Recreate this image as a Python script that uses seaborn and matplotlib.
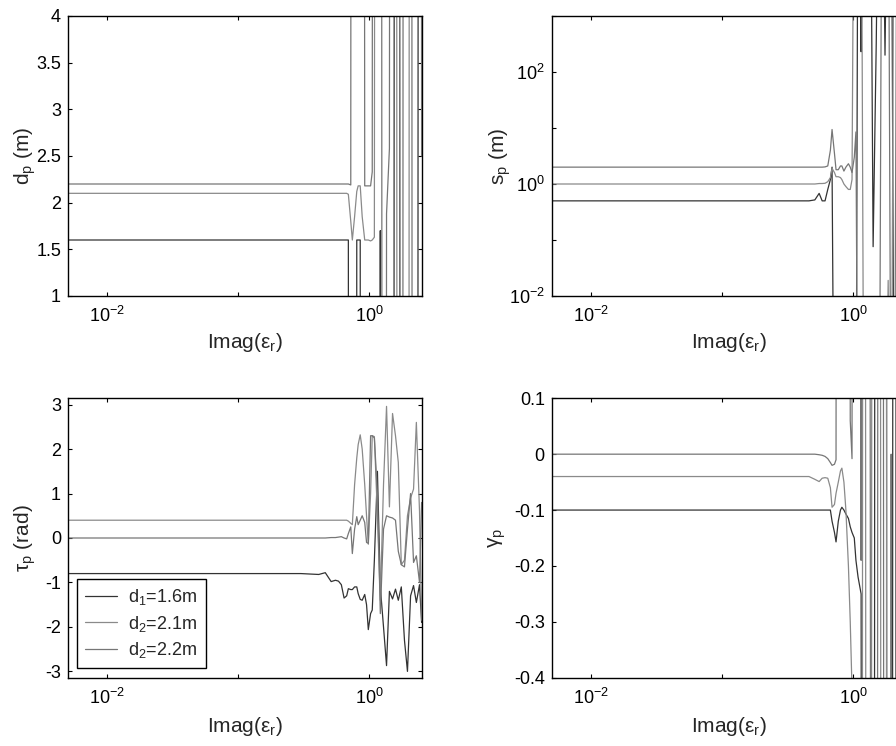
import numpy as np
import matplotlib
matplotlib.use("Agg")
import matplotlib.pyplot as plt
import seaborn as sns
from matplotlib.ticker import FixedLocator, FixedFormatter, NullLocator

# ---------------------------------------------------------------- data
# sampled imaginary part of the relative permittivity
imag_eps = [0.005, 0.25, 0.30, 0.35, 0.41, 0.46, 0.51, 0.55, 0.58, 0.61,
            0.64, 0.67, 0.69, 0.72, 0.74, 0.77, 0.80, 0.82, 0.85, 0.88,
            0.92, 0.95, 0.98, 1.02, 1.05, 1.09, 1.15, 1.21, 1.28, 1.35,
            1.42, 1.50, 1.58, 1.66, 1.75, 1.85, 1.95, 2.06, 2.17, 2.28,
            2.41, 2.50]

labels = ["d$_\\mathregular{1}$=1.6m", "d$_\\mathregular{2}$=2.1m", "d$_\\mathregular{2}$=2.2m"]

# estimated depth d_p (m)
dp_a = [1.6, 1.6, 1.6, 1.6, 1.6, 1.6, 1.6, 1.6, 1.6, 1.6, 1.6, 1.6, 1.6,
        -40, -40, -40, 1.6, 1.6, 1.6, -40, -40, -40, -40, -40, -40, -40,
        -40, 1.7, -40, -40, -40, -40, 40, 40, -40, -40, -40, -40, -40, -40,
        40, 40]
dp_b = [2.1, 2.1, 2.1, 2.1, 2.1, 2.1, 2.1, 2.1, 2.1, 2.1, 2.1, 2.1, 2.09,
        1.8, 1.6, 1.85, 2.12, 2.18, 2.18, 1.85, 1.6, 1.6, 1.6, 1.59, 1.6,
        1.63, 40, 40, 40, 40, 40, 40, 40, -40, -40, -40, -40, 40, 40, 40,
        40, 2.5]
dp_c = [2.2, 2.2, 2.2, 2.2, 2.2, 2.2, 2.2, 2.2, 2.2, 2.2, 2.2, 2.2, 2.2,
        2.19, 40, 40, 40, 40, 40, 40, 2.18, 2.18, 2.18, 2.18, 2.33, 40, 40,
        40, -40, 1.88, 2.58, 40, 40, 40, -40, 40, 40, 40, -40, -40, -40, -40]

# estimated spread s_p (m)
sp_a = [0.5, 0.5, 0.5, 0.5, 0.5, 0.5, 0.52, 0.68, 0.5, 0.5, 0.8, 1.2, 2.0,
        1e-6, 1e-6, 1e-6, 1e-6, 1e-6, 1e-6, 1e-6, 1e-6, 1e-6, 1e-6, 1e-6,
        1e-6, 1e7, 230, 1e7, 1e7, 1e7, 0.076, 320, 1e7, 1e7, 200, 1e7,
        1e7, 1e-6, 1e-6, 1e7, 1e7, 1e-6]
sp_b = [1.0, 1.0, 1.0, 1.0, 1.0, 1.0, 1.0, 1.02, 1.02, 1.03, 1.1, 1.3, 1.9,
        1.6, 1.35, 1.35, 1.3, 1.2, 1.0, 0.9, 0.8, 0.8, 1.2, 1e7, 1e7, 1e7,
        1e7, 1e-6, 1e-6, 1e-6, 1e-6, 1e-6, 1e-6, 1e-6, 1e-6, 0.019, 1e-6,
        1e7, 1e7, 1e-6, 1e-6, 1e7]
sp_c = [2.0, 2.0, 2.0, 2.0, 2.0, 2.0, 2.0, 2.0, 2.0, 2.02, 2.1, 4.0, 9.4,
        3.5, 1.8, 1.8, 2.1, 2.1, 1.7, 2.0, 2.3, 2.0, 1.6, 3.0, 8.5, 1e-6,
        1e-6, 1e-6, 1e-6, 1e-6, 1e-6, 1e-6, 1e-6, 1e7, 1e7, 1e7, 1e-6,
        1e-6, 1e7, 1e7, 1e-6, 1e-6]

# estimated orientation tau_p (rad)
tau_a = [-0.8, -0.8, -0.8, -0.81, -0.82, -0.78, -0.98, -0.95, -0.97, -1.05,
         -1.35, -1.3, -1.14, -1.16, -1.16, -1.1, -1.1, -1.25, -1.38, -1.4,
         -1.27, -1.5, -2.06, -1.7, -1.62, -0.5, 1.5, -1.1, -2.0, -2.87, -1.2,
         -1.37, -1.15, -1.4, -1.1, -2.3, -3.0, -1.3, -1.07, -1.45, -1.05,
         -1.9]
tau_b = [0.4, 0.4, 0.4, 0.4, 0.4, 0.4, 0.4, 0.4, 0.4, 0.4, 0.4, 0.4, 0.38,
         0.33, 0.3, 1.2, 1.8, 2.1, 2.32, 2.0, 1.2, 0.5, -0.14, 1.0, 2.3,
         2.28, 0.5, -1.4, 1.2, 2.96, 0.7, 2.8, 2.3, 1.7, -0.6, -0.5, 0.5,
         0.9, 1.1, 2.6, 0.6, -1.85]
tau_c = [0.0, 0.0, 0.0, 0.0, 0.0, 0.0, 0.01, 0.01, 0.02, 0.03, 0.0, -0.02,
         0.1, 0.25, -0.35, 0.2, 0.48, 0.3, 0.4, 0.5, 0.35, -0.1, -0.12, 2.3,
         2.3, 2.25, 1.0, -1.7, 0.2, 0.5, 0.47, 0.45, 0.4, -0.3, -0.6, -0.65,
         0.2, 1.0, -0.55, -0.4, -1.0, 0.8]

# estimated shape factor gamma_p
gam_a = [-0.1, -0.1, -0.1, -0.1, -0.1, -0.1, -0.1, -0.1, -0.1, -0.1, -0.1,
         -0.1, -0.12, -0.14, -0.157, -0.12, -0.1, -0.095, -0.1, -0.107,
         -0.115, -0.13, -0.14, -0.15, -0.19, -0.22, -0.25, -5, -5, -5, -5,
         5, 5, 5, 5, -5, -5, 5, 5, -5, -5, 5]
gam_b = [-0.04, -0.04, -0.04, -0.04, -0.04, -0.04, -0.045, -0.049, -0.043,
         -0.042, -0.043, -0.06, -0.095, -0.09, -0.07, -0.05, -0.03, -0.025,
         -0.05, -0.1, -0.2, -0.3, -0.42, -5, -5, -5, -5, 5, -5, -5, 5, 5,
         5, -5, -5, 5, 5, 5, -5, -5, 5, 5]
gam_c = [0.0, 0.0, 0.0, 0.0, 0.0, 0.0, 0.0, -0.001, -0.002, -0.004, -0.008,
         -0.015, -0.02, -0.018, -0.01, 5, 5, 5, 5, 5, 5, 0.06, -0.008, 5, 5,
         5, -0.19, 5, 5, 0.0, -5, -5, 5, 5, -5, -5, 0.0, -5, 5, 5, -5, -5]

# ---------------------------------------------------------------- style
sns.set_theme(style="ticks")
plt.rcParams.update({
    "font.family": ["Liberation Sans", "DejaVu Sans"],
    "mathtext.fontset": "custom",
    "mathtext.rm": "Liberation Sans",
    "mathtext.it": "Liberation Sans:italic",
    "mathtext.bf": "Liberation Sans:bold",
    "axes.unicode_minus": False,
    "xtick.direction": "in",
    "ytick.direction": "in",
    "xtick.top": True,
    "ytick.right": True,
    "xtick.major.size": 3,
    "ytick.major.size": 3,
    "xtick.major.width": 0.8,
    "ytick.major.width": 0.8,
    "axes.edgecolor": "black",
    "axes.linewidth": 1.0,
    "xtick.color": "black",
    "ytick.color": "black",
})

colors = ["#333333", "#8a8a8a", "#767676"]
LW = 0.9
TICK_FS = 13
LABEL_FS = 15

fig = plt.figure(figsize=(8.96, 7.46), dpi=100)
W, H = 896.0, 746.0


def make_axes(left, top, right, bottom):
    return fig.add_axes([left / W, 1 - bottom / H, (right - left) / W, (bottom - top) / H])


ax_dp = make_axes(68, 16, 421.6, 296)
ax_sp = make_axes(551.7, 16, 905.3, 296)
ax_tau = make_axes(68, 398.3, 421.6, 677.7)
ax_gam = make_axes(551.7, 398.3, 905.3, 677.7)

panels = [
    (ax_dp, [dp_a, dp_b, dp_c]),
    (ax_sp, [sp_a, sp_b, sp_c]),
    (ax_tau, [tau_a, tau_b, tau_c]),
    (ax_gam, [gam_a, gam_b, gam_c]),
]

for ax, series in panels:
    for k, vals in enumerate(series):
        sns.lineplot(x=imag_eps, y=vals, ax=ax, color=colors[k], linewidth=LW,
                     sort=False, estimator=None,
                     label=labels[k] if ax is ax_tau else None,
                     legend=(ax is ax_tau))

# common x axis
for ax, ylab_y in [(ax_dp, -0.125), (ax_sp, -0.125), (ax_tau, -0.135), (ax_gam, -0.135)]:
    ax.set_xscale("log")
    ax.set_xlim(0.005, 2.5)
    ax.xaxis.set_major_locator(FixedLocator([1e-2, 1e-1, 1e0]))
    ax.xaxis.set_major_formatter(FixedFormatter(["$10^{-2}$", "", "$10^{0}$"]))
    ax.xaxis.set_minor_locator(NullLocator())
    ax.tick_params(axis="x", labelsize=TICK_FS, pad=7)
    ax.tick_params(axis="y", labelsize=TICK_FS, pad=5)
    ax.set_xlabel("Imag(ε$_\\mathregular{r}$)", fontsize=LABEL_FS)
    ax.xaxis.set_label_coords(0.5, ylab_y)
    for sp in ax.spines.values():
        sp.set_visible(True)
        sp.set_color("black")

# d_p
ax_dp.set_ylim(1, 4)
ax_dp.yaxis.set_major_locator(FixedLocator([1, 1.5, 2, 2.5, 3, 3.5, 4]))
ax_dp.yaxis.set_major_formatter(FixedFormatter(["1", "1.5", "2", "2.5", "3", "3.5", "4"]))
ax_dp.set_ylabel("d$_\\mathregular{p}$ (m)", fontsize=LABEL_FS)
ax_dp.yaxis.set_label_coords(-0.085, 0.5)

# s_p
ax_sp.set_yscale("log")
ax_sp.set_ylim(1e-2, 1e3)
ax_sp.yaxis.set_major_locator(FixedLocator([1e-2, 1e-1, 1e0, 1e1, 1e2, 1e3]))
ax_sp.yaxis.set_major_formatter(FixedFormatter(["$10^{-2}$", "", "$10^{0}$", "", "$10^{2}$", ""]))
ax_sp.yaxis.set_minor_locator(NullLocator())
ax_sp.set_ylabel("s$_\\mathregular{p}$ (m)", fontsize=LABEL_FS)
ax_sp.yaxis.set_label_coords(-0.11, 0.5)

# tau_p
ax_tau.set_ylim(-np.pi, np.pi)
ax_tau.yaxis.set_major_locator(FixedLocator([-3, -2, -1, 0, 1, 2, 3]))
ax_tau.yaxis.set_major_formatter(FixedFormatter(["-3", "-2", "-1", "0", "1", "2", "3"]))
ax_tau.set_ylabel("τ$_\\mathregular{p}$ (rad)", fontsize=LABEL_FS)
ax_tau.yaxis.set_label_coords(-0.085, 0.5)

# gamma_p
ax_gam.set_ylim(-0.4, 0.1)
ax_gam.yaxis.set_major_locator(FixedLocator([-0.4, -0.3, -0.2, -0.1, 0, 0.1]))
ax_gam.yaxis.set_major_formatter(FixedFormatter(["-0.4", "-0.3", "-0.2", "-0.1", "0", "0.1"]))
ax_gam.set_ylabel("γ$_\\mathregular{p}$", fontsize=LABEL_FS)
ax_gam.yaxis.set_label_coords(-0.125, 0.5)

leg = ax_tau.legend(loc="lower left", bbox_to_anchor=(0.025, 0.034), borderaxespad=0,
                    fontsize=TICK_FS, frameon=True, fancybox=False, shadow=False,
                    handlelength=1.8, handletextpad=0.6, labelspacing=0.35,
                    borderpad=0.45)
leg.get_frame().set_edgecolor("black")
leg.get_frame().set_linewidth(1.0)
leg.get_frame().set_facecolor("white")
leg.get_frame().set_alpha(1.0)

fig.savefig("out.png", dpi=100)
